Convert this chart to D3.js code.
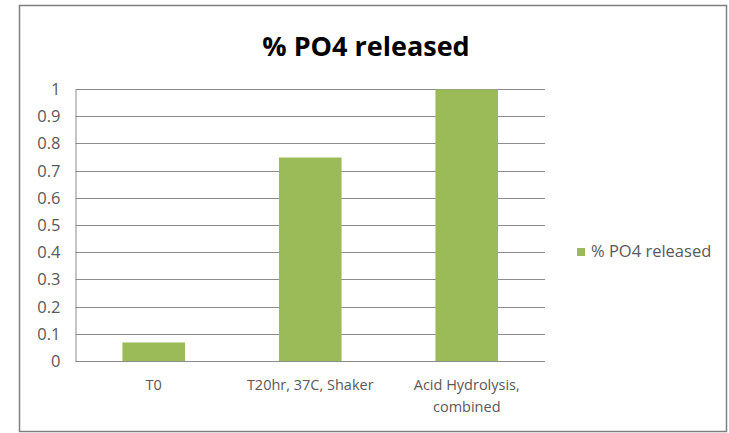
<!DOCTYPE html>
<html>
<head>
<meta charset="utf-8">
<script src="https://cdn.jsdelivr.net/npm/d3@7"></script>
<style>
  html, body { margin: 0; padding: 0; background: #fff; }
  svg { display: block; }
</style>
</head>
<body>
<svg id="chart" width="729" height="433"></svg>
<script>
// Chart data
const categories = ["T0", "T20hr, 37C, Shaker", "Acid Hydrolysis, combined"];
const categoryLines = [["T0"], ["T20hr, 37C, Shaker"], ["Acid Hydrolysis,", "combined"]];
const values = [0.07, 0.75, 1.0];
const yTicks = [0, 0.1, 0.2, 0.3, 0.4, 0.5, 0.6, 0.7, 0.8, 0.9, 1];
const seriesName = "% PO4 released";
const chartTitle = "% PO4 released";

const svg = d3.select("#chart");
const font = "'Open Sans', 'Liberation Sans', sans-serif";
const barColor = "#9bbb59";
const textColor = "#595959";
const gridColor = "#8c8c8c";

// Outer chart frame
svg.append("rect")
  .attr("x", 19.5).attr("y", 5.5)
  .attr("width", 707).attr("height", 426)
  .attr("fill", "#fff").attr("stroke", "#808080").attr("stroke-width", 1.5);

const plot = { left: 75.5, right: 545, top: 89.5, bottom: 361.5 };

const x = d3.scaleBand()
  .domain(categories)
  .range([plot.left, plot.right])
  .paddingInner(0.6)
  .paddingOuter(0.3);

const y = d3.scaleLinear()
  .domain([0, 1])
  .range([plot.bottom, plot.top]);

// Horizontal gridlines
svg.append("g")
  .selectAll("line")
  .data(yTicks)
  .join("line")
  .attr("x1", plot.left).attr("x2", plot.right)
  .attr("y1", d => Math.floor(y(d)) + 0.5)
  .attr("y2", d => Math.floor(y(d)) + 0.5)
  .attr("stroke", gridColor).attr("stroke-width", 1);

// Y axis
const yAxis = svg.append("g")
  .attr("transform", `translate(${plot.left},0)`)
  .call(d3.axisLeft(y).tickValues(yTicks).tickSize(0).tickPadding(15)
    .tickFormat(d => d3.format("")(+d.toFixed(1))));
yAxis.select(".domain").attr("stroke", gridColor);
yAxis.selectAll("text")
  .attr("font-family", font).attr("font-size", 16.5).attr("fill", textColor)
  .attr("dy", "0.3em");

// Bars
svg.append("g")
  .selectAll("rect")
  .data(values)
  .join("rect")
  .attr("x", (d, i) => x(categories[i]))
  .attr("width", x.bandwidth())
  .attr("y", d => y(d))
  .attr("height", d => y(0) - y(d))
  .attr("fill", barColor);

// X axis baseline
svg.append("line")
  .attr("x1", plot.left).attr("x2", plot.right)
  .attr("y1", Math.floor(y(0)) + 0.5).attr("y2", Math.floor(y(0)) + 0.5)
  .attr("stroke", gridColor);

// Category labels
const xl = svg.append("g");
categories.forEach((c, i) => {
  const cx = x(c) + x.bandwidth() / 2;
  const t = xl.append("text")
    .attr("x", cx)
    .attr("y", 390)
    .attr("text-anchor", "middle")
    .attr("font-family", font).attr("font-size", 14.5).attr("fill", textColor);
  categoryLines[i].forEach((line, j) => {
    t.append("tspan")
      .attr("x", cx)
      .attr("dy", j === 0 ? 0 : 22)
      .text(line);
  });
});

// Title
svg.append("text")
  .attr("x", 366).attr("y", 56)
  .attr("text-anchor", "middle")
  .attr("font-family", font).attr("font-weight", "bold")
  .attr("font-size", 27).attr("fill", "#000")
  .text(chartTitle);

// Legend
const legend = svg.append("g").attr("transform", "translate(577,248)");
legend.append("rect").attr("x", 0).attr("y", 0).attr("width", 8).attr("height", 8).attr("fill", barColor);
legend.append("text")
  .attr("x", 14).attr("y", 9)
  .attr("font-family", font).attr("font-size", 16.5).attr("fill", textColor)
  .text(seriesName);
</script>
</body>
</html>
